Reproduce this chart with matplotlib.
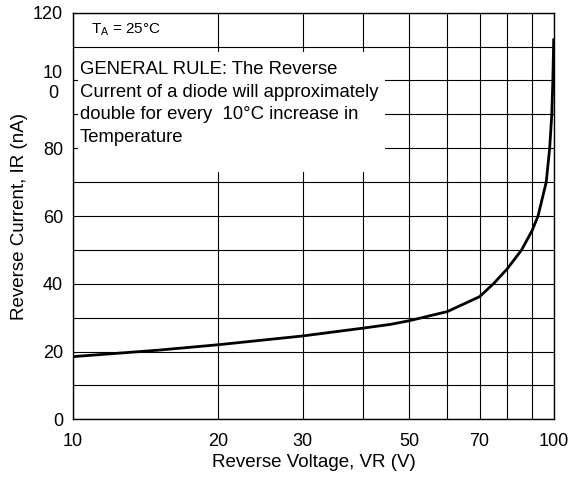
import matplotlib
matplotlib.use("Agg")
import matplotlib.pyplot as plt
from matplotlib.patches import Rectangle

plt.rcParams["font.family"] = ["Liberation Sans", "DejaVu Sans"]
plt.rcParams["mathtext.default"] = "regular"

# curve (reverse voltage in V, reverse current in nA)
voltage = [10, 15, 20, 30, 40, 45.6, 50, 60, 70, 74.8, 80, 85.6, 90, 92.6,
           96.3, 97.9, 98.9, 99.4, 99.8]
current = [18.5, 20.4, 22.0, 24.6, 26.9, 28.0, 29.1, 31.8, 36.2, 40, 44.5, 50,
           55.7, 60, 70, 80, 90, 100, 112]

x_ticks = [10, 20, 30, 50, 70, 100]
x_grid = [10, 20, 30, 40, 50, 60, 70, 80, 90, 100]
y_ticks = [0, 20, 40, 60, 80, 100, 120]
y_tick_labels = ["0", "20", "40", "60", "80", "10\n0", "120"]
y_grid = list(range(0, 121, 10))

fig = plt.figure(figsize=(5.79, 4.82), dpi=100)
ax = fig.add_axes([0.126, 0.130, 0.831, 0.8437])

ax.set_xscale("log")
ax.set_xlim(10, 100)
ax.set_ylim(0, 120)

# grid lines
for v in x_grid:
    ax.axvline(v, color="black", lw=0.8, zorder=0.5)
for c in y_grid:
    ax.axhline(c, color="black", lw=0.8, zorder=0.5)

ax.plot(voltage, current, color="black", lw=2.0, zorder=3,
        solid_joinstyle="round")

ax.set_xticks(x_ticks)
ax.set_xticklabels([str(t) for t in x_ticks])
ax.xaxis.set_minor_locator(matplotlib.ticker.NullLocator())
ax.set_yticks(y_ticks)
labels = ax.set_yticklabels(y_tick_labels)
for lab in labels:
    lab.set_multialignment("center")
ax.tick_params(axis="both", length=0, labelsize=13)
ax.tick_params(axis="y", pad=7)
ax.tick_params(axis="x", pad=10)

for sp in ax.spines.values():
    sp.set_linewidth(1.0)
    sp.set_color("black")

ax.set_xlabel("Reverse Voltage, VR (V)", fontsize=13.5, labelpad=3)
ax.set_ylabel("Reverse Current, IR (nA)", fontsize=13.5, labelpad=4)

# white panel behind the note
ax.add_patch(Rectangle((0.0104, 0.608), 0.638, 0.295, transform=ax.transAxes,
                       facecolor="white", edgecolor="none", zorder=1))

ax.text(0.0146, 0.880,
        "GENERAL RULE: The Reverse\n"
        "Current of a diode will approximately\n"
        "double for every  10°C increase in\n"
        "Temperature",
        transform=ax.transAxes, ha="left", va="top", fontsize=13.3,
        linespacing=1.42, zorder=4)

ax.text(0.0366, 0.958, r"T$_{A}$ = 25°C", transform=ax.transAxes,
        ha="left", va="center", fontsize=11, zorder=4)

fig.savefig("out.png", dpi=100)
